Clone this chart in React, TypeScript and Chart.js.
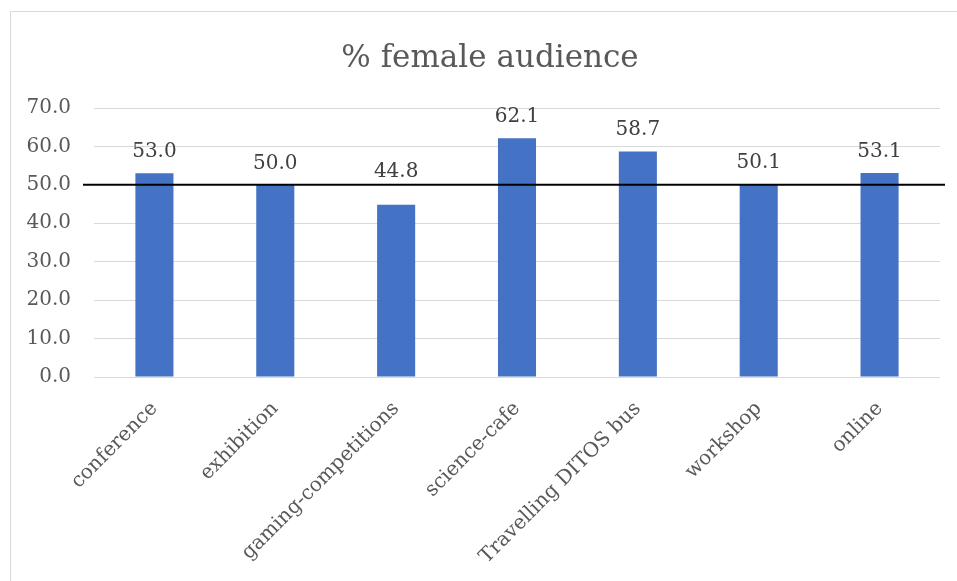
import React, { useEffect, useRef } from "react";
import { Chart, registerables } from "chart.js";

Chart.register(...registerables);

const TITLE = "% female audience";
const categories = [
  "conference",
  "exhibition",
  "gaming-competitions",
  "science-cafe",
  "Travelling DITOS bus",
  "workshop",
  "online",
];
const femalePercent = [53.0, 50.0, 44.8, 62.1, 58.7, 50.1, 53.1];
const yMin = 0;
const yMax = 70;
const yStep = 10;
const referenceLine = 50;

const FONT = "'DejaVu Serif', 'Liberation Serif', serif";

export default function App() {
  const canvasRef = useRef<HTMLCanvasElement | null>(null);

  useEffect(() => {
    const canvas = canvasRef.current;
    if (!canvas) return;

    const framePlugin = {
      id: "frame",
      beforeDraw(chart: any) {
        const ctx = chart.ctx;
        ctx.save();
        ctx.fillStyle = "#ffffff";
        ctx.fillRect(0, 0, chart.width, chart.height);
        ctx.strokeStyle = "#d9d9d9";
        ctx.lineWidth = 1;
        ctx.strokeRect(10.5, 11.5, chart.width + 20, chart.height + 20);
        // title (centred on the full chart frame, which runs past the right edge)
        ctx.fillStyle = "#595959";
        ctx.font = `31px ${FONT}`;
        ctx.textAlign = "center";
        ctx.textBaseline = "alphabetic";
        ctx.fillText(TITLE, 490, 67);
        ctx.restore();
      },
    };

    const overlayPlugin = {
      id: "overlay",
      afterDatasetsDraw(chart: any) {
        const ctx = chart.ctx;
        const area = chart.chartArea;
        const yScale = chart.scales.y;
        ctx.save();
        const ly = yScale.getPixelForValue(referenceLine);
        ctx.strokeStyle = "#000000";
        ctx.lineWidth = 2;
        ctx.beginPath();
        ctx.moveTo(area.left - 11, ly);
        ctx.lineTo(area.right + 5, ly);
        ctx.stroke();
        const meta = chart.getDatasetMeta(0);
        ctx.fillStyle = "#404040";
        ctx.font = `20px ${FONT}`;
        ctx.textAlign = "center";
        ctx.textBaseline = "alphabetic";
        meta.data.forEach((bar: any, i: number) => {
          let base = bar.y - 16;
          // keep labels clear of the reference line
          if (base > ly - 8) base = ly - 8;
          ctx.fillText(femalePercent[i].toFixed(1), bar.x, base);
        });
        ctx.restore();
      },
    };

    const chart = new Chart(canvas, {
      type: "bar",
      data: {
        labels: categories,
        datasets: [
          {
            data: femalePercent,
            backgroundColor: "#4472C4",
            borderWidth: 0,
            categoryPercentage: 1,
            barPercentage: 0.315,
          },
        ],
      },
      options: {
        responsive: false,
        animation: false,
        layout: { padding: { left: 0, right: 17, top: 108, bottom: 0 } },
        plugins: {
          legend: { display: false },
          tooltip: { enabled: false },
          title: { display: false },
        },
        scales: {
          x: {
            grid: { display: false, drawTicks: false },
            border: { display: false },
            ticks: {
              color: "#595959",
              font: { family: FONT, size: 20 },
              minRotation: 45,
              maxRotation: 45,
              autoSkip: false,
              padding: 20,
            },
            afterFit(scale: any) {
              scale.height = 204;
            },
          },
          y: {
            min: yMin,
            max: yMax,
            grid: { color: "#d9d9d9", lineWidth: 1, drawTicks: false },
            border: { display: false },
            ticks: {
              stepSize: yStep,
              color: "#595959",
              font: { family: FONT, size: 20 },
              padding: 23,
              callback: (v: any) => Number(v).toFixed(1),
            },
            afterFit(scale: any) {
              scale.width = 94;
            },
          },
        },
      },
      plugins: [framePlugin, overlayPlugin],
    });

    return () => chart.destroy();
  }, []);

  return (
    <div style={{ position: "absolute", left: 0, top: 0, width: 957, height: 581, background: "#fff" }}>
      <canvas ref={canvasRef} width={957} height={581} style={{ width: 957, height: 581, display: "block" }} />
    </div>
  );
}
